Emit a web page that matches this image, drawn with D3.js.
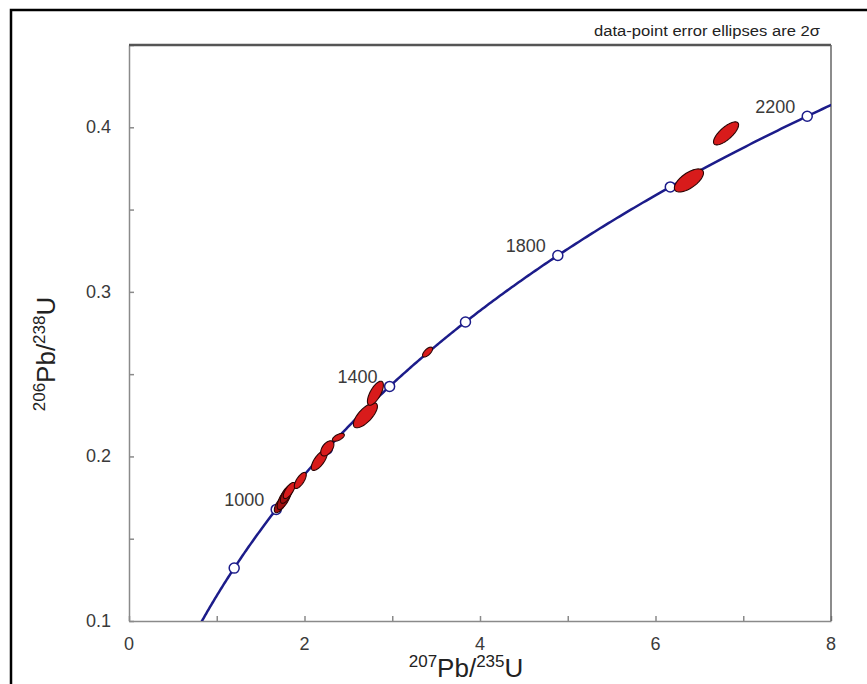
<!DOCTYPE html>
<html>
<head>
<meta charset="utf-8">
<script src="https://cdn.jsdelivr.net/npm/d3@7"></script>
<style>
  body { margin: 0; background: #fff; }
  svg { display: block; font-family: "Liberation Sans", Arial, sans-serif; }
</style>
</head>
<body>
<div id="chart"></div>
<script>
// decay constants (per year)
const lambda238 = 1.55125e-10;
const lambda235 = 9.8485e-10;

// concordia age markers (Ma) and which ones get a label
const markerAges = [800, 1000, 1200, 1400, 1600, 1800, 2000, 2200];
const labelAges = [1000, 1400, 1800, 2200];

// analyses: 207Pb/235U, 206Pb/238U, 2-sigma errors, error correlation
const ratio75 = [1.724, 1.769, 1.795, 1.826, 1.952, 2.169, 2.260, 2.386, 2.694, 2.808, 3.402, 6.381, 6.804];
const ratio68 = [0.1707, 0.1744, 0.1770, 0.1793, 0.1854, 0.1976, 0.2049, 0.2116, 0.2250, 0.2384, 0.2634, 0.3677, 0.3963];
const err75 = [0.068, 0.080, 0.070, 0.068, 0.068, 0.091, 0.075, 0.068, 0.137, 0.091, 0.057, 0.166, 0.143];
const err68 = [0.0049, 0.0067, 0.0055, 0.0049, 0.0049, 0.0061, 0.0046, 0.0024, 0.0076, 0.0073, 0.0030, 0.0070, 0.0070];
const rho = [0.65, 0.70, 0.65, 0.70, 0.70, 0.70, 0.50, 0.60, 0.71, 0.68, 0.65, 0.65, 0.74];

const xTicks = d3.range(0, 9, 1);
const xLabels = [0, 2, 4, 6, 8];
const yTicks = d3.range(0.1, 0.451, 0.05);
const yLabels = [0.1, 0.2, 0.3, 0.4];

const width = 867, height = 684;
const plot = { left: 129, right: 831, top: 45, bottom: 621 };

const x = d3.scaleLinear().domain([0, 8]).range([plot.left, plot.right]);
const y = d3.scaleLinear().domain([0.1, 0.45]).range([plot.bottom, plot.top]);

const concordia = t => ({
  x: Math.exp(lambda235 * t * 1e6) - 1,
  y: Math.exp(lambda238 * t * 1e6) - 1
});

const svg = d3.select("#chart").append("svg")
  .attr("width", width)
  .attr("height", height);

// outer frame
svg.append("rect")
  .attr("x", 11).attr("y", 10)
  .attr("width", 900).attr("height", 700)
  .attr("fill", "none")
  .attr("stroke", "#000")
  .attr("stroke-width", 2.5);

svg.append("defs").append("clipPath").attr("id", "plotclip")
  .append("rect")
  .attr("x", plot.left).attr("y", plot.top)
  .attr("width", plot.right - plot.left)
  .attr("height", plot.bottom - plot.top);

// axes with inward ticks
const axisColor = "#8a8a8a";
const gx = svg.append("g").attr("transform", `translate(0,${plot.bottom})`)
  .call(d3.axisBottom(x).tickValues(xTicks).tickSizeInner(-5).tickSizeOuter(0).tickFormat(""));
const gy = svg.append("g").attr("transform", `translate(${plot.left},0)`)
  .call(d3.axisLeft(y).tickValues(yTicks).tickSizeInner(-5).tickSizeOuter(0).tickFormat(""));
[gx, gy].forEach(g => {
  g.selectAll("path, line").attr("stroke", axisColor).attr("stroke-width", 1.5);
});

// top and right frame of the plot
svg.append("line")
  .attr("x1", plot.left).attr("x2", plot.right)
  .attr("y1", plot.top).attr("y2", plot.top)
  .attr("stroke", "#555").attr("stroke-width", 2.5);
svg.append("line")
  .attr("x1", plot.right).attr("x2", plot.right)
  .attr("y1", plot.top).attr("y2", plot.bottom)
  .attr("stroke", "#666").attr("stroke-width", 1.5);

// tick labels
svg.selectAll(".xl").data(xLabels).join("text")
  .attr("x", d => x(d)).attr("y", plot.bottom + 29)
  .attr("text-anchor", "middle")
  .attr("font-size", 18).attr("fill", "#3a3a3a")
  .text(d => d);
svg.selectAll(".yl").data(yLabels).join("text")
  .attr("x", plot.left - 18).attr("y", d => y(d) + 6)
  .attr("text-anchor", "end")
  .attr("font-size", 18).attr("fill", "#3a3a3a")
  .text(d => d3.format(".1f")(d));

// axis titles
const xt = svg.append("text")
  .attr("x", 466).attr("y", 677)
  .attr("text-anchor", "middle")
  .attr("font-size", 26).attr("fill", "#222");
xt.append("tspan").attr("font-size", 17).attr("dy", -10).text("207");
xt.append("tspan").attr("dy", 10).text("Pb/");
xt.append("tspan").attr("font-size", 17).attr("dy", -10).text("235");
xt.append("tspan").attr("dy", 10).text("U");

const yt = svg.append("text")
  .attr("transform", "translate(55,354) rotate(-90)")
  .attr("text-anchor", "middle")
  .attr("font-size", 26).attr("fill", "#222");
yt.append("tspan").attr("font-size", 17).attr("dy", -10).text("206");
yt.append("tspan").attr("dy", 10).text("Pb/");
yt.append("tspan").attr("font-size", 17).attr("dy", -10).text("238");
yt.append("tspan").attr("dy", 10).text("U");

svg.append("text")
  .attr("x", 820).attr("y", 36)
  .attr("text-anchor", "end")
  .attr("font-size", 14).attr("fill", "#222")
  .attr("textLength", 226).attr("lengthAdjust", "spacingAndGlyphs")
  .text("data-point error ellipses are 2σ");

const body = svg.append("g").attr("clip-path", "url(#plotclip)");

// concordia curve
const ages = d3.range(500, 2600, 5);
body.append("path")
  .datum(ages.map(concordia))
  .attr("fill", "none")
  .attr("stroke", "#1c1c8a")
  .attr("stroke-width", 2.5)
  .attr("d", d3.line().x(d => x(d.x)).y(d => y(d.y)));

// age markers
body.selectAll(".mk").data(markerAges.map(concordia)).join("circle")
  .attr("cx", d => x(d.x)).attr("cy", d => y(d.y))
  .attr("r", 5)
  .attr("fill", "#fff")
  .attr("stroke", "#1c1c8a")
  .attr("stroke-width", 1.5);

// error ellipses
const data = ratio75.map((v, i) => ({ x: v, y: ratio68[i], sx: err75[i], sy: err68[i], r: rho[i] }));
const ellipse = d => {
  const k = Math.sqrt(1 - d.r * d.r);
  return d3.range(0, 64).map(j => {
    const t = j / 64 * 2 * Math.PI;
    return [x(d.x + d.sx * Math.cos(t)),
            y(d.y + d.sy * (d.r * Math.cos(t) + k * Math.sin(t)))];
  });
};
body.selectAll(".ell").data(data).join("path")
  .attr("d", d => d3.line().curve(d3.curveLinearClosed)(ellipse(d)))
  .attr("fill", (d, i) => i < 3 ? "#a01010" : "#d81b1b")
  .attr("stroke", "#2a0404")
  .attr("stroke-width", 1.1);

svg.selectAll(".age").data(labelAges).join("text")
  .attr("x", d => x(concordia(d).x) - 12)
  .attr("y", d => y(concordia(d).y) - 3)
  .attr("text-anchor", "end")
  .attr("font-size", 18).attr("fill", "#3a3a3a")
  .text(d => d);
</script>
</body>
</html>
